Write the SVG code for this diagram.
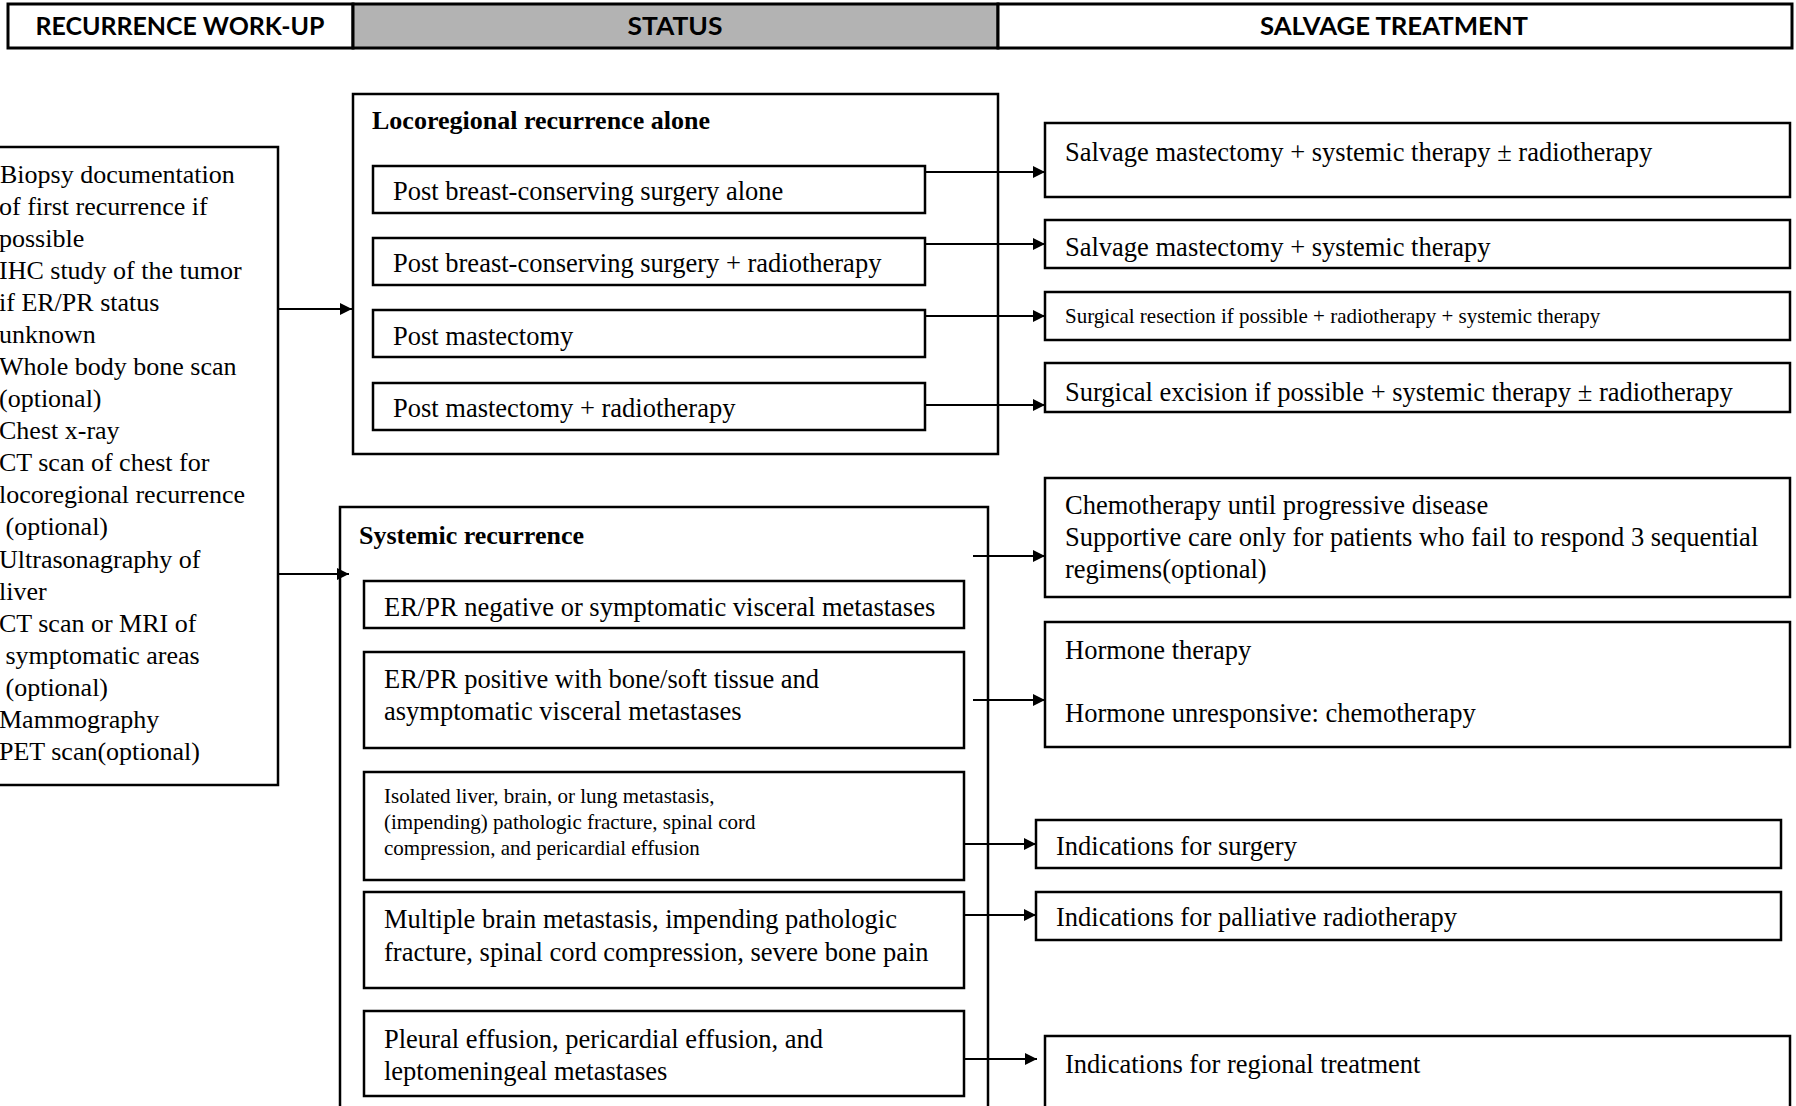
<svg xmlns="http://www.w3.org/2000/svg" width="1796" height="1106" viewBox="0 0 1796 1106">
<style>
.box{fill:#fff;stroke:#000;stroke-width:2.5}
.hdr{stroke:#000;stroke-width:3}
.h{font-family:Lato,"Liberation Sans",sans-serif;font-weight:bold;font-size:24px;text-anchor:middle;fill:#000}
.t{font-family:"Liberation Serif","Times New Roman",serif;font-size:26.5px;fill:#000}
.tl{font-family:"Liberation Serif","Times New Roman",serif;font-size:26px;fill:#000}
.ts{font-family:"Liberation Serif","Times New Roman",serif;font-size:21px;fill:#000}
.b{font-family:"Liberation Serif","Times New Roman",serif;font-size:26px;font-weight:bold;fill:#000}
.c{stroke:#000;stroke-width:2;fill:none;marker-end:url(#ah)}
</style>
<defs>
<marker id="ah" viewBox="0 0 12 12" refX="12" refY="6" markerWidth="14" markerHeight="12" markerUnits="userSpaceOnUse" orient="auto">
<path d="M0,0 L12,6 L0,12 z" fill="#000"/>
</marker>
</defs>
<rect width="1796" height="1106" fill="#fff"/>

<g id="header">
<rect class="hdr" x="8" y="4" width="345" height="44" fill="#fff"/>
<rect class="hdr" x="353" y="4" width="645" height="44" fill="#b3b3b3"/>
<rect class="hdr" x="998" y="4" width="794" height="44" fill="#fff"/>
<text class="h" x="180" y="35" textLength="289" lengthAdjust="spacingAndGlyphs">RECURRENCE WORK-UP</text>
<text class="h" x="675" y="35" textLength="95" lengthAdjust="spacingAndGlyphs">STATUS</text>
<text class="h" x="1394" y="35" textLength="268" lengthAdjust="spacingAndGlyphs">SALVAGE TREATMENT</text>
</g>

<g id="workup">
<rect class="box" x="-20" y="147" width="298" height="638"/>
<text class="tl" x="0" y="183">Biopsy documentation</text>
<text class="tl" x="-1" y="215">of first recurrence if</text>
<text class="tl" x="-1" y="247">possible</text>
<text class="tl" x="-1" y="279">IHC study of the tumor</text>
<text class="tl" x="-1" y="311">if ER/PR status</text>
<text class="tl" x="-1" y="343">unknown</text>
<text class="tl" x="-1" y="375">Whole body bone scan</text>
<text class="tl" x="-1" y="407">(optional)</text>
<text class="tl" x="-1" y="439">Chest x-ray</text>
<text class="tl" x="-1" y="471">CT scan of chest for</text>
<text class="tl" x="-1" y="503">locoregional recurrence</text>
<text class="tl" x="5.5" y="535">(optional)</text>
<text class="tl" x="-1" y="568">Ultrasonagraphy of</text>
<text class="tl" x="-1" y="600">liver</text>
<text class="tl" x="-1" y="632">CT scan or MRI of</text>
<text class="tl" x="5.5" y="664">symptomatic areas</text>
<text class="tl" x="5.5" y="696">(optional)</text>
<text class="tl" x="-1" y="728">Mammography</text>
<text class="tl" x="-1" y="760">PET scan(optional)</text>
</g>

<g id="locoregional">
<rect class="box" x="353" y="94" width="645" height="360"/>
<text class="b" x="372" y="129">Locoregional recurrence alone</text>
</g>
<g id="loco-bcs">
<rect class="box" x="373" y="166" width="552" height="47"/>
<text class="t" x="393" y="200">Post breast-conserving surgery alone</text>
</g>
<g id="loco-bcs-rt">
<rect class="box" x="373" y="238" width="552" height="47"/>
<text class="t" x="393" y="272">Post breast-conserving surgery + radiotherapy</text>
</g>
<g id="loco-mast">
<rect class="box" x="373" y="310" width="552" height="47"/>
<text class="t" x="393" y="345">Post mastectomy</text>
</g>
<g id="loco-mast-rt">
<rect class="box" x="373" y="383" width="552" height="47"/>
<text class="t" x="393" y="417">Post mastectomy + radiotherapy</text>
</g>

<g id="tx-1">
<rect class="box" x="1045" y="123" width="745" height="74"/>
<text class="t" x="1065" y="161">Salvage mastectomy + systemic therapy ± radiotherapy</text>
</g>
<g id="tx-2">
<rect class="box" x="1045" y="220" width="745" height="48"/>
<text class="t" x="1065" y="256">Salvage mastectomy + systemic therapy</text>
</g>
<g id="tx-3">
<rect class="box" x="1045" y="292" width="745" height="48"/>
<text class="ts" x="1065" y="323">Surgical resection if possible + radiotherapy + systemic therapy</text>
</g>
<g id="tx-4">
<rect class="box" x="1045" y="363" width="745" height="49"/>
<text class="t" x="1065" y="401">Surgical excision if possible + systemic therapy ± radiotherapy</text>
</g>

<g id="systemic">
<rect class="box" x="340" y="507" width="648" height="640"/>
<text class="b" x="359" y="544">Systemic recurrence</text>
</g>
<g id="sys-neg">
<rect class="box" x="364" y="581" width="600" height="47"/>
<text class="t" x="384" y="616">ER/PR negative or symptomatic visceral metastases</text>
</g>
<g id="sys-pos">
<rect class="box" x="364" y="652" width="600" height="96"/>
<text class="t" x="384" y="688">ER/PR positive with bone/soft tissue and</text>
<text class="t" x="384" y="720">asymptomatic visceral metastases</text>
</g>
<g id="sys-isolated">
<rect class="box" x="364" y="772" width="600" height="108"/>
<text class="ts" x="384" y="803">Isolated liver, brain, or lung metastasis,</text>
<text class="ts" x="384" y="829">(impending) pathologic fracture, spinal cord</text>
<text class="ts" x="384" y="855">compression, and pericardial effusion</text>
</g>
<g id="sys-multiple">
<rect class="box" x="364" y="892" width="600" height="96"/>
<text class="t" x="384" y="928">Multiple brain metastasis, impending pathologic</text>
<text class="t" x="384" y="961">fracture, spinal cord compression, severe bone pain</text>
</g>
<g id="sys-effusion">
<rect class="box" x="364" y="1011" width="600" height="85"/>
<text class="t" x="384" y="1048">Pleural effusion, pericardial effusion, and</text>
<text class="t" x="384" y="1080">leptomeningeal metastases</text>
</g>

<g id="tx-chemo">
<rect class="box" x="1045" y="478" width="745" height="119"/>
<text class="t" x="1065" y="514">Chemotherapy until progressive disease</text>
<text class="t" x="1065" y="546">Supportive care only for patients who fail to respond 3 sequential</text>
<text class="t" x="1065" y="578">regimens(optional)</text>
</g>
<g id="tx-hormone">
<rect class="box" x="1045" y="622" width="745" height="125"/>
<text class="t" x="1065" y="659">Hormone therapy</text>
<text class="t" x="1065" y="722">Hormone unresponsive: chemotherapy</text>
</g>
<g id="tx-surgery">
<rect class="box" x="1036" y="820" width="745" height="48"/>
<text class="t" x="1056" y="855">Indications for surgery</text>
</g>
<g id="tx-palliative">
<rect class="box" x="1036" y="892" width="745" height="48"/>
<text class="t" x="1056" y="926">Indications for palliative radiotherapy</text>
</g>
<g id="tx-regional">
<rect class="box" x="1045" y="1036" width="745" height="110"/>
<text class="t" x="1065" y="1073">Indications for regional treatment</text>
</g>

<g id="connectors">
<line class="c" x1="278" y1="309" x2="352" y2="309"/>
<line class="c" x1="278" y1="574" x2="349" y2="574"/>
<line class="c" x1="925" y1="172" x2="1045" y2="172"/>
<line class="c" x1="925" y1="244" x2="1045" y2="244"/>
<line class="c" x1="925" y1="316" x2="1045" y2="316"/>
<line class="c" x1="925" y1="405" x2="1045" y2="405"/>
<line class="c" x1="973" y1="556" x2="1045" y2="556"/>
<line class="c" x1="973" y1="700" x2="1045" y2="700"/>
<line class="c" x1="964" y1="844" x2="1036" y2="844"/>
<line class="c" x1="964" y1="915" x2="1036" y2="915"/>
<line class="c" x1="964" y1="1059" x2="1037" y2="1059"/>
</g>
</svg>
